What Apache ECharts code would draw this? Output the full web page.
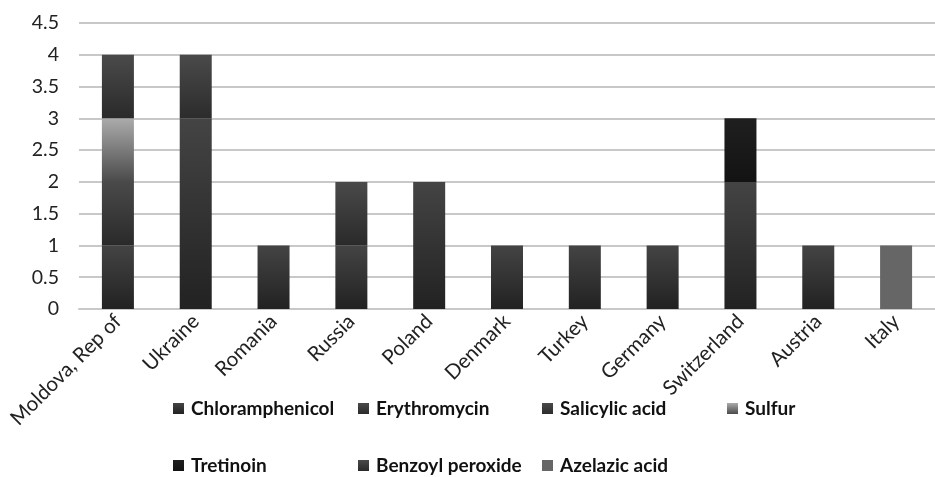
<!DOCTYPE html>
<html><head><meta charset="utf-8">
<script src="https://cdn.jsdelivr.net/npm/echarts@6/dist/echarts.min.js"></script>
<style>html,body{margin:0;padding:0;background:#fff}#c{width:935px;height:477px}</style>
</head><body><div id="c"></div>
<script>
const categories = ['Moldova, Rep of','Ukraine','Romania','Russia','Poland','Denmark','Turkey','Germany','Switzerland','Austria','Italy'];
const seriesNames = ['Chloramphenicol','Erythromycin','Salicylic acid','Sulfur','Tretinoin','Benzoyl peroxide','Azelazic acid'];
const chloramphenicol = [1,3,1,1,2,1,1,1,2,1,0];
const erythromycin    = [1,0,0,1,0,0,0,0,0,0,0];
const salicylicAcid   = [0,1,0,0,0,0,0,0,0,0,0];
const sulfur          = [1,0,0,0,0,0,0,0,0,0,0];
const tretinoin       = [0,0,0,0,0,0,0,0,1,0,0];
const benzoylPeroxide = [1,0,0,0,0,0,0,0,0,0,0];
const azelazicAcid    = [0,0,0,0,0,0,0,0,0,0,1];
const yTicks = [0,0.5,1,1.5,2,2.5,3,3.5,4,4.5];

const seriesData = [chloramphenicol, erythromycin, salicylicAcid, sulfur, tretinoin, benzoylPeroxide, azelazicAcid];
const grads = [
  ['#444444','#222222'],
  ['#4a4a4a','#2a2a2a'],
  ['#4a4a4a','#2c2c2c'],
  ['#ababab','#4a4a4a'],
  ['#1f1f1f','#131313'],
  ['#4a4a4a','#2a2a2a'],
  ['#666666','#666666']
];
const FONT = 'Lato, "Open Sans", sans-serif';
const chart = echarts.init(document.getElementById('c'));
const series = seriesNames.map((n,i)=>({
  name:n, type:'bar', stack:'a', barWidth:32,
  data: seriesData[i].map(v=> v===0 ? '-' : v),
  itemStyle:{color:new echarts.graphic.LinearGradient(0,0,0,1,[{offset:0,color:grads[i][0]},{offset:1,color:grads[i][1]}])}
}));
const legendPos = [[173,399],[358,399],[542,399],[727,399],[173,456],[358,456],[542,456]];
const legends = seriesNames.map((n,i)=>({
  data:[n], left:legendPos[i][0], top:legendPos[i][1], padding:0,
  itemWidth:11, itemHeight:11, icon:'rect', itemGap:0,
  textStyle:{fontFamily:FONT, fontWeight:'bold', fontSize:19, color:'#111', padding:[0,0,0,2]}
}));
chart.setOption({
  animation:false,
  grid:{left:79, top:23, width:867, height:286, containLabel:false},
  legend:legends,
  xAxis:{type:'category', data:categories,
    axisLine:{show:true, lineStyle:{color:'#c8c8c8', width:2}},
    axisTick:{show:false},
    axisLabel:{rotate:45, fontFamily:FONT, fontSize:20.5, color:'#222', margin:9, interval:0}},
  yAxis:{type:'value', min:0, max:4.5, interval:0.5,
    axisLine:{show:false}, axisTick:{show:false},
    splitLine:{lineStyle:{color:'#c8c8c8', width:2}},
    axisLabel:{fontFamily:FONT, fontSize:19.5, color:'#222', margin:20,
      formatter:v=>String(v)}},
  series:series
});
</script></body></html>
